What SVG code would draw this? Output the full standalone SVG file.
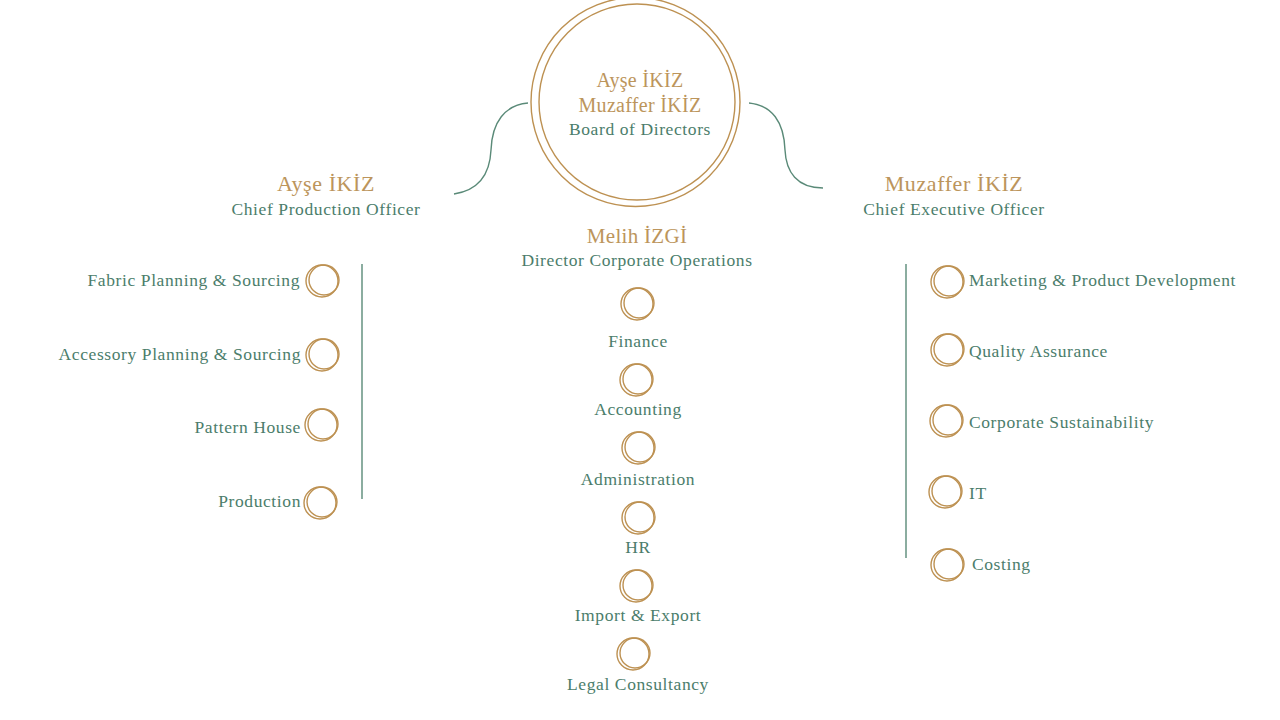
<svg xmlns="http://www.w3.org/2000/svg" width="1280" height="720" viewBox="0 0 1280 720">
<defs>
<style>
.g{fill:#BC955C;font-family:"Liberation Serif","DejaVu Serif",serif;font-size:20px;letter-spacing:0.3px}
.h{fill:#BC955C;font-family:"Liberation Serif","DejaVu Serif",serif;font-size:22px;letter-spacing:0.6px}
.m{fill:#BC955C;font-family:"Liberation Serif","DejaVu Serif",serif;font-size:21px;letter-spacing:0.3px}
.t{fill:#4B7D6B;font-family:"Liberation Serif","DejaVu Serif",serif;font-size:17.5px;letter-spacing:0.6px}
.c{fill:none;stroke:#BD9152;stroke-width:1.4}
.l{fill:none;stroke:#5A8A78;stroke-width:1.4}
</style>
<g id="ring"><circle class="c" cx="0" cy="0" r="16"/><circle class="c" cx="2" cy="-1" r="15"/></g>
</defs>
<rect width="1280" height="720" fill="#fff"/>
<g id="connectors">
<path class="l" d="M454,194 C480,190 490,172 491,150 C492,122 505,105 528,103"/>
<path class="l" d="M749,103 C772,105 784,122 785,150 C786,172 797,188 823,188"/>
<line class="l" x1="362" y1="264" x2="362" y2="499"/>
<line class="l" x1="906" y1="264" x2="906" y2="558"/>
</g>
<g id="board">
<circle class="c" cx="635.5" cy="102" r="104.5"/>
<circle class="c" cx="637" cy="102" r="98"/>
<text class="g" x="640" y="87" text-anchor="middle">Ayşe İKİZ</text>
<text class="g" x="640" y="112" text-anchor="middle">Muzaffer İKİZ</text>
<text class="t" x="640" y="135" text-anchor="middle">Board of Directors</text>
</g>
<g id="cpo">
<text class="h" x="326" y="191" text-anchor="middle">Ayşe İKİZ</text>
<text class="t" x="326" y="215" text-anchor="middle">Chief Production Officer</text>
</g>
<g id="dco">
<text class="m" x="637" y="243" text-anchor="middle">Melih İZGİ</text>
<text class="t" x="637" y="266" text-anchor="middle">Director Corporate Operations</text>
</g>
<g id="ceo">
<text class="h" x="954" y="191" text-anchor="middle">Muzaffer İKİZ</text>
<text class="t" x="954" y="215" text-anchor="middle">Chief Executive Officer</text>
</g>
<g id="fabric"><use href="#ring" x="322" y="281"/><text class="t" x="300" y="286" text-anchor="end">Fabric Planning &amp; Sourcing</text></g>
<g id="accessory"><use href="#ring" x="322" y="355"/><text class="t" x="301" y="360" text-anchor="end">Accessory Planning &amp; Sourcing</text></g>
<g id="pattern"><use href="#ring" x="321" y="425"/><text class="t" x="301" y="433" text-anchor="end">Pattern House</text></g>
<g id="production"><use href="#ring" x="320" y="503"/><text class="t" x="301" y="507" text-anchor="end">Production</text></g>
<g id="finance"><use href="#ring" x="637" y="304"/><text class="t" x="638" y="347" text-anchor="middle">Finance</text></g>
<g id="accounting"><use href="#ring" x="636" y="380"/><text class="t" x="638" y="415" text-anchor="middle">Accounting</text></g>
<g id="administration"><use href="#ring" x="638" y="448"/><text class="t" x="638" y="485" text-anchor="middle">Administration</text></g>
<g id="hr"><use href="#ring" x="638" y="518"/><text class="t" x="638" y="553" text-anchor="middle">HR</text></g>
<g id="importexport"><use href="#ring" x="636" y="586"/><text class="t" x="638" y="621" text-anchor="middle">Import &amp; Export</text></g>
<g id="legal"><use href="#ring" x="633" y="654"/><text class="t" x="638" y="690" text-anchor="middle">Legal Consultancy</text></g>
<g id="marketing"><use href="#ring" x="947" y="282"/><text class="t" x="969" y="286">Marketing &amp; Product Development</text></g>
<g id="quality"><use href="#ring" x="947" y="350"/><text class="t" x="969" y="357">Quality Assurance</text></g>
<g id="sustainability"><use href="#ring" x="946" y="421"/><text class="t" x="969" y="428">Corporate Sustainability</text></g>
<g id="it"><use href="#ring" x="945" y="492"/><text class="t" x="969" y="499">IT</text></g>
<g id="costing"><use href="#ring" x="947" y="565"/><text class="t" x="972" y="570">Costing</text></g>
</svg>
